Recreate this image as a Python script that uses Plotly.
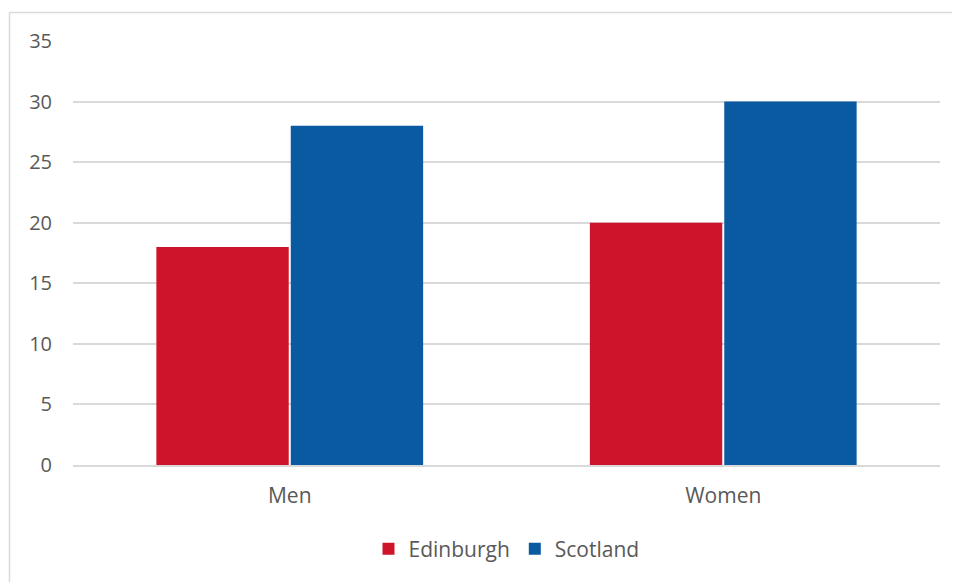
import plotly.graph_objects as go

categories = ["Men", "Women"]
edinburgh = [18, 20]
scotland = [28, 30]
y_ticks = [0, 5, 10, 15, 20, 25, 30, 35]

FONT = "Open Sans"
TXT = "#595959"

# page has an 8px body offset; margins compensate
L, T, R, B = 65, 33, 28, 125
W, H = 960, 582
PW, PH = W - L - R, H - T - B

fig = go.Figure()
fig.add_trace(go.Bar(name="Edinburgh", x=categories, y=edinburgh,
                     marker=dict(color="#CE142B", line=dict(width=0))))
fig.add_trace(go.Bar(name="Scotland", x=categories, y=scotland,
                     marker=dict(color="#0A5AA2", line=dict(width=0))))

fig.update_layout(
    width=W, height=H,
    margin=dict(l=L, r=R, t=T, b=B),
    paper_bgcolor="white", plot_bgcolor="white",
    barmode="group", bargap=0.38, bargroupgap=0.015,
    font=dict(family=FONT, size=20, color=TXT),
    showlegend=True,
    legend=dict(orientation="h", x=0.5, xanchor="center", y=-(549 - 465) / PH, yanchor="middle",
                font=dict(family=FONT, size=21, color=TXT), itemwidth=30,
                traceorder="normal"),
    xaxis=dict(showgrid=False, showline=True, linecolor="#D9D9D9", linewidth=1.5,
               ticks="", tickfont=dict(size=21, color=TXT), ticklabelstandoff=11),
    yaxis=dict(range=[0, 35], tickvals=y_ticks, showgrid=True, gridcolor="#D9D9D9",
               gridwidth=1.5, zeroline=False, showline=False, ticks="",
               tickfont=dict(size=20, color=TXT), ticklabelstandoff=20),
    shapes=[
        dict(type="line", xref="paper", yref="paper", x0=-(73 - 9.5) / PW, x1=1.1,
             y0=(465 - 12.5) / PH, y1=(465 - 12.5) / PH,
             line=dict(color="#D9D9D9", width=1.5)),
        dict(type="line", xref="paper", yref="paper", x0=-(73 - 9.5) / PW, x1=-(73 - 9.5) / PW,
             y0=-0.4, y1=(465 - 12.5) / PH,
             line=dict(color="#D9D9D9", width=1.5)),
    ],
)
fig.write_html("out.html")
